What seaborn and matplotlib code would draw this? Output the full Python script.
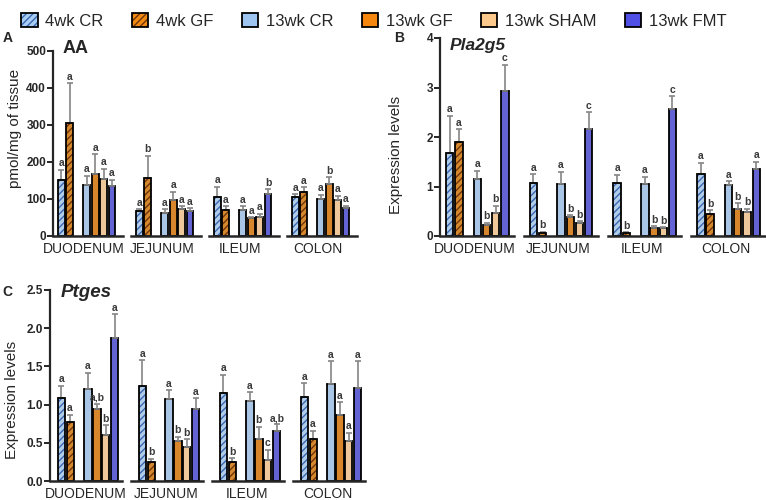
import numpy as np
import pandas as pd
import matplotlib
matplotlib.use("Agg")
import matplotlib.pyplot as plt
from matplotlib.patches import Patch, Rectangle
import seaborn as sns

# Groups / tissues
groups = ["4wk CR", "4wk GF", "13wk CR", "13wk GF", "13wk SHAM", "13wk FMT"]
tissues = ["DUODENUM", "JEJUNUM", "ILEUM", "COLON"]
slots = [0, 1, 3, 4, 5, 6]

colors = {"4wk CR": "#a9cdf3", "4wk GF": "#f28a12", "13wk CR": "#9fc6f0",
          "13wk GF": "#f5870f", "13wk SHAM": "#fcc98c", "13wk FMT": "#5050e6"}
hatch_colors = {"4wk CR": "#3a68b0", "4wk GF": "#6e3608"}

# Panel A: AA (pmol/mg of tissue), rows = tissues, cols = groups
aa_mean = [[152, 306, 137, 168, 153, 134],
           [68, 157, 61, 98, 73, 68],
           [106, 70, 70, 48, 52, 113],
           [104, 120, 100, 140, 98, 76]]
aa_sem = [[27, 106, 26, 52, 29, 18],
          [4, 60, 11, 22, 7, 7],
          [27, 11, 11, 3, 8, 14],
          [9, 11, 11, 19, 11, 6]]
aa_sig = [["a", "a", "a", "a", "a", "a"],
          ["a", "b", "a", "a", "a", "a"],
          ["a", "a", "a", "a", "a", "b"],
          ["a", "a", "a", "b", "a", "a"]]

# Panel B: Pla2g5 expression
pla_mean = [[1.68, 1.90, 1.15, 0.23, 0.46, 2.92],
            [1.08, 0.07, 1.06, 0.38, 0.26, 2.16],
            [1.07, 0.07, 1.05, 0.16, 0.16, 2.57],
            [1.26, 0.45, 1.04, 0.55, 0.49, 1.35]]
pla_sem = [[0.75, 0.26, 0.17, 0.04, 0.15, 0.54],
           [0.17, 0.02, 0.24, 0.04, 0.04, 0.34],
           [0.17, 0.01, 0.15, 0.04, 0.02, 0.25],
           [0.22, 0.07, 0.07, 0.11, 0.06, 0.15]]
pla_sig = [["a", "a", "a", "b", "b", "c"],
           ["a", "b", "a", "b", "b", "c"],
           ["a", "b", "a", "b", "b", "c"],
           ["a", "b", "a", "b", "b", "a"]]

# Panel C: Ptges expression
ptg_mean = [[1.08, 0.77, 1.21, 0.94, 0.60, 1.87],
            [1.24, 0.25, 1.07, 0.53, 0.45, 0.94],
            [1.15, 0.25, 1.05, 0.55, 0.28, 0.66],
            [1.10, 0.55, 1.27, 0.86, 0.52, 1.22]]
ptg_sem = [[0.17, 0.10, 0.21, 0.07, 0.13, 0.31],
           [0.34, 0.04, 0.12, 0.05, 0.10, 0.14],
           [0.24, 0.05, 0.11, 0.16, 0.13, 0.08],
           [0.18, 0.11, 0.30, 0.17, 0.11, 0.35]]
ptg_sig = [["a", "a", "a", "a,b", "b", "a"],
           ["a", "b", "a", "b", "b", "a"],
           ["a", "b", "a", "b", "c", "a,b"],
           ["a", "a", "a", "a", "a", "a"]]

sns.set_style("ticks")
plt.rcParams["font.family"] = ["Liberation Sans", "DejaVu Sans"]
plt.rcParams["hatch.linewidth"] = 1.0

W, H = 766, 500
fig = plt.figure(figsize=(W / 100, H / 100), dpi=100)


def add_ax(x0, x1, ytop, ybot):
    return fig.add_axes([x0 / W, 1 - ybot / H, (x1 - x0) / W, (ybot - ytop) / H])


def draw_panel(x0, x1, ytop, ybot, gap, means, sems, sigs, yticks, fmt, xlim):
    segw = (x1 - x0 - 3 * gap) / 4
    for i, tissue in enumerate(tissues):
        left = x0 + i * (segw + gap)
        ax = add_ax(left, left + segw, ytop, ybot)
        df = pd.DataFrame({"group": groups, "pos": slots,
                           "mean": means[i], "sem": sems[i], "sig": sigs[i]})
        sns.barplot(data=df, x="pos", y="mean", hue="group", hue_order=groups,
                    palette=colors, native_scale=True, dodge=False, width=0.8,
                    edgecolor="black", linewidth=1.3, errorbar=None,
                    legend=False, ax=ax)
        # hatching for the 4wk groups, then a black outline on top
        for p in list(ax.patches):
            k = slots.index(int(round(p.get_x() + p.get_width() / 2)))
            g = groups[k]
            if g in hatch_colors:
                p.set_hatch("/////")
                p.set_edgecolor(hatch_colors[g])
                p.set_linewidth(0)
                ax.add_patch(Rectangle(p.get_xy(), p.get_width(), p.get_height(),
                                       fill=False, edgecolor="black", linewidth=1.3,
                                       zorder=p.get_zorder() + 0.1))
        ax.errorbar(df["pos"], df["mean"], yerr=[np.zeros(6), df["sem"]],
                    fmt="none", ecolor="#858585", elinewidth=1.2, capsize=2,
                    capthick=1.2, zorder=1)
        for _, r in df.iterrows():
            ax.annotate(r["sig"], (r["pos"], r["mean"] + r["sem"]),
                        xytext=(0, 1), textcoords="offset points",
                        ha="center", va="bottom", fontsize=7.5,
                        fontweight="bold", color="#3a3a3a")
        ax.set_xlim(*xlim)
        ax.set_ylim(yticks[0], yticks[-1])
        ax.set_xticks([2.7])
        ax.set_xticklabels([tissue], fontsize=10)
        ax.tick_params(axis="x", length=0, pad=4)
        ax.set_xlabel("")
        ax.set_ylabel("")
        ax.spines["top"].set_visible(False)
        ax.spines["right"].set_visible(False)
        ax.spines["bottom"].set_linewidth(1.8)
        if i == 0:
            ax.spines["left"].set_linewidth(1.6)
            ax.set_yticks(yticks)
            ax.set_yticklabels([fmt.format(v) for v in yticks],
                               fontsize=8.5, fontweight="bold")
            ax.tick_params(axis="y", length=4, width=1.4, pad=1)
        else:
            ax.spines["left"].set_visible(False)
            ax.set_yticks([])


def ftext(x, y, s, **kw):
    fig.text(x / W, 1 - y / H, s, **kw)


# Panel A
draw_panel(53, 357, 50.7, 236, 8, aa_mean, aa_sem, aa_sig,
           [0, 100, 200, 300, 400, 500], "{:.0f}", (-1.0, 7.3))
ftext(3, 42, "A", fontsize=10, fontweight="bold")
ftext(63, 53, "AA", fontsize=13, fontweight="bold", va="baseline")
ftext(15, 128, "pmol/mg of tissue", fontsize=11, rotation=90, ha="center", va="center")

# Panel B
draw_panel(440, 765, 38, 236, 10, pla_mean, pla_sem, pla_sig,
           [0, 1, 2, 3, 4], "{:.0f}", (-1.05, 6.95))
ftext(394, 42, "B", fontsize=10, fontweight="bold")
ftext(450, 50, "Pla2g5", fontsize=12.5, fontweight="bold", style="italic", va="baseline")
ftext(396, 155, "Expression levels", fontsize=11, rotation=90, ha="center", va="center")

# Panel C
draw_panel(50, 365, 290, 481, 9, ptg_mean, ptg_sem, ptg_sig,
           [0, 0.5, 1.0, 1.5, 2.0, 2.5], "{:.1f}", (-1.25, 6.8))
ftext(2, 296, "C", fontsize=10, fontweight="bold")
ftext(61, 297, "Ptges", fontsize=13.5, fontweight="bold", style="italic", va="baseline")
ftext(12, 400, "Expression levels", fontsize=11, rotation=90, ha="center", va="center")

# Legend
handles = []
for g in groups:
    if g in hatch_colors:
        handles.append((Patch(facecolor=colors[g], edgecolor=hatch_colors[g],
                              hatch="/////", linewidth=0),
                        Patch(fill=False, edgecolor="black", linewidth=1.3)))
    else:
        handles.append(Patch(facecolor=colors[g], edgecolor="black", linewidth=1.3))
fig.legend(handles, groups, loc="upper center", bbox_to_anchor=(0.488, 1.005),
           ncol=6, frameon=False, fontsize=12, handlelength=1.0, handleheight=1.0,
           handletextpad=0.45, columnspacing=1.7)

fig.savefig("out.png", dpi=100)
